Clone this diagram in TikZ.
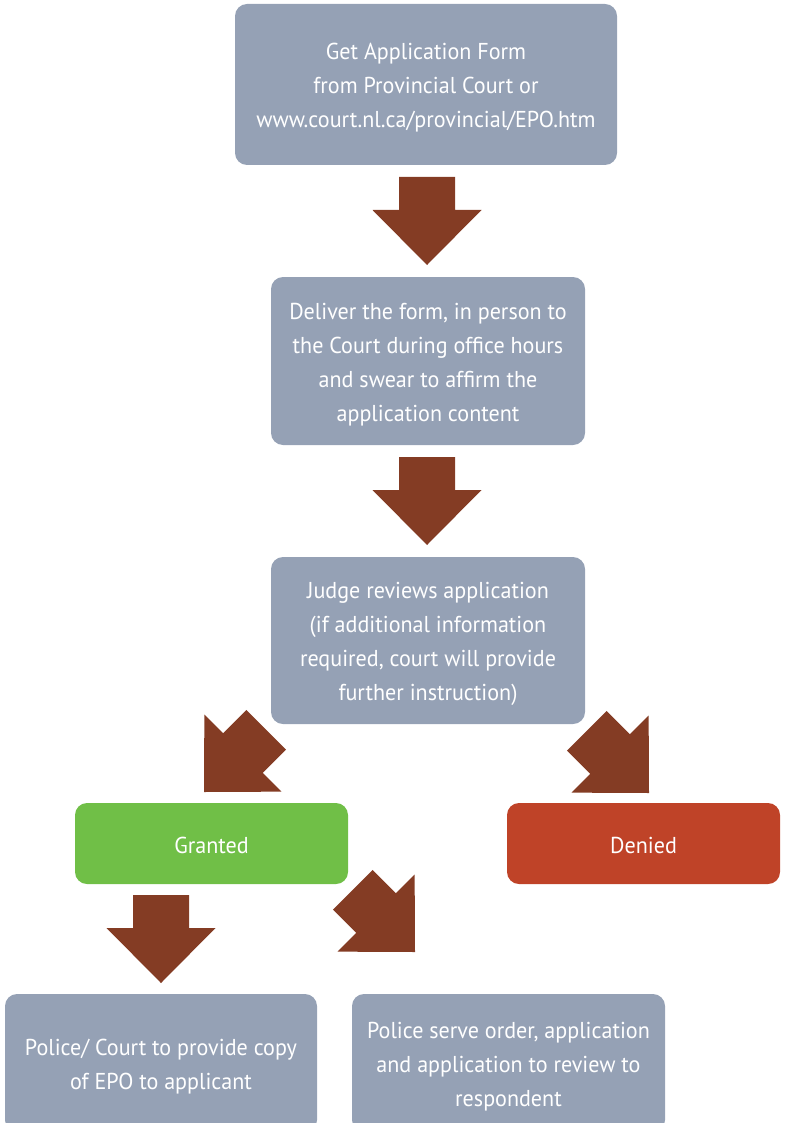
\documentclass[tikz,border=0pt]{standalone}
\usepackage{fontspec}
\setmainfont{PT Sans}[FakeStretch=0.96]
\definecolor{boxgray}{HTML}{95A1B5}
\definecolor{arrowbrown}{HTML}{843C24}
\definecolor{grantgreen}{HTML}{70BF47}
\definecolor{denyred}{HTML}{BF4328}
\newcommand\blockarr[2]{\fill[arrowbrown, shift={(#1)}, rotate=#2] (0,0) -- (-54.5,-55) -- (-28,-55) -- (-28,-88) -- (28,-88) -- (28,-55) -- (54.5,-55) -- cycle;}
\begin{document}
\begin{tikzpicture}[x=1pt,y=-1pt,
  flowbox/.style={rectangle, rounded corners=12pt, fill=boxgray, inner sep=0pt},
  boxtext/.style={text=white, align=center, inner sep=0pt, font=\fontsize{23}{34}\selectfont}]
\useasboundingbox (0,0) rectangle (784,1123);
\clip (0,0) rectangle (784,1123);
\node[flowbox, minimum width=382pt, minimum height=161pt] (form) at (426,84.5) {};
\node[boxtext] (formtext) at ([yshift=-3pt]form.center)
  {Get Application Form\\from Provincial Court or\\www.court.nl.ca/provincial/EPO.htm};
\node[flowbox, minimum width=314pt, minimum height=168pt] (deliver) at (428,361) {};
\node[boxtext] (delivertext) at ([yshift=-3.5pt]deliver.center)
  {Deliver the form, in person to\\the Court during office hours\\and swear to affirm the\\application content};
\node[flowbox, minimum width=314pt, minimum height=167pt] (judge) at (428,640.5) {};
\node[boxtext] (judgetext) at ([yshift=-3pt]judge.center)
  {Judge reviews application\\(if additional information\\required, court will provide\\further instruction)};
\node[flowbox, fill=grantgreen, minimum width=273pt, minimum height=81pt] (granted) at (211.5,843.5) {};
\node[boxtext] (grantedtext) at ([yshift=-2pt]granted.center) {Granted};
\node[flowbox, fill=denyred, minimum width=273pt, minimum height=81pt] (denied) at (643.5,843.5) {};
\node[boxtext] (deniedtext) at ([yshift=-2pt]denied.center) {Denied};
\node[flowbox, minimum width=312pt, minimum height=138pt] (copy) at (161,1063) {};
\node[boxtext] (copytext) at ([yshift=-3.5pt]copy.center)
  {Police/ Court to provide copy\\of EPO to applicant};
\node[flowbox, minimum width=313pt, minimum height=138pt] (serve) at (508.5,1063) {};
\node[boxtext] (servetext) at ([yshift=-3.5pt]serve.center)
  {Police serve order, application\\and application to review to\\respondent};
\blockarr{427,265}{0}
\blockarr{427,545}{0}
\blockarr{204,792}{-45}
\blockarr{649,793}{45}
\blockarr{161,983}{0}
\blockarr{415,952}{45}
\end{tikzpicture}
\end{document}
